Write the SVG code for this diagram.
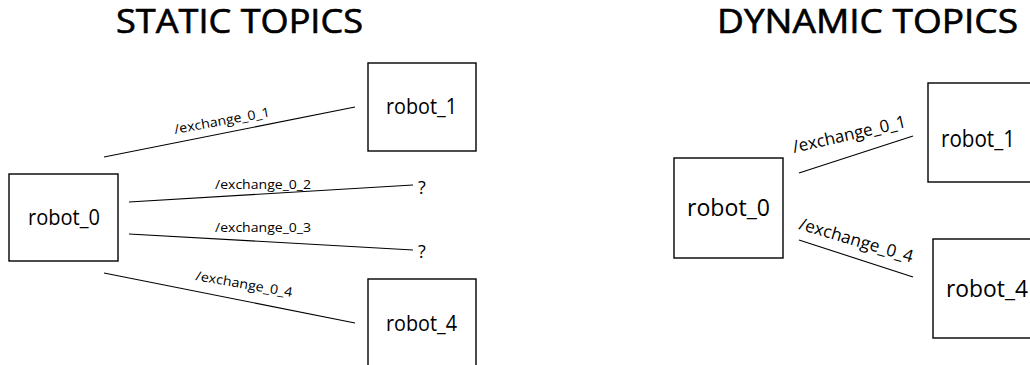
<svg xmlns="http://www.w3.org/2000/svg" width="1030" height="365" viewBox="0 0 1030 365">
  <style>
    text { font-family: "Open Sans", Lato, "Liberation Sans", sans-serif; fill: #000; }
    .title { font-size: 32px; stroke: #000; stroke-width: 0.6; }
    .node rect { fill: #fff; stroke: #000; stroke-width: 1.4; }
    .s-label { font-size: 21px; }
    .d-label { font-size: 23px; }
    .edge line { stroke: #000; stroke-width: 1.1; }
    .topic { font-size: 13px; }
    .topic-big { font-size: 17px; }
    .mark { font-size: 18px; }
  </style>
  <rect width="1030" height="365" fill="#fff"/>

  <!-- headings -->
  <text class="title" x="116" y="33" textLength="247" lengthAdjust="spacingAndGlyphs">STATIC TOPICS</text>
  <text class="title" x="717" y="33" textLength="301" lengthAdjust="spacingAndGlyphs">DYNAMIC TOPICS</text>

  <!-- static topics: connectors -->
  <g id="static-connectors" class="edge">
    <line x1="104" y1="157" x2="355" y2="107"/>
    <line x1="129" y1="202" x2="413" y2="185"/>
    <line x1="129" y1="234" x2="413" y2="250"/>
    <line x1="104" y1="273" x2="355" y2="323"/>
    <text class="topic" transform="translate(175 134) rotate(-10.5)" textLength="97" lengthAdjust="spacingAndGlyphs">/exchange_0_1</text>
    <text class="topic" x="215" y="189" textLength="96" lengthAdjust="spacingAndGlyphs">/exchange_0_2</text>
    <text class="topic" x="215" y="232" textLength="96" lengthAdjust="spacingAndGlyphs">/exchange_0_3</text>
    <text class="topic" transform="translate(195 280) rotate(10)" textLength="98" lengthAdjust="spacingAndGlyphs">/exchange_0_4</text>
    <text class="mark" x="418" y="194">?</text>
    <text class="mark" x="418" y="258">?</text>
  </g>

  <!-- static topics: nodes -->
  <g id="s-robot_0" class="node">
    <rect x="9" y="174" width="109" height="87"/>
    <text class="s-label" x="28" y="225" textLength="72" lengthAdjust="spacingAndGlyphs">robot_0</text>
  </g>
  <g id="s-robot_1" class="node">
    <rect x="368" y="63" width="108" height="88"/>
    <text class="s-label" x="386" y="114" textLength="71" lengthAdjust="spacingAndGlyphs">robot_1</text>
  </g>
  <g id="s-robot_4" class="node">
    <rect x="368" y="279" width="108" height="110"/>
    <text class="s-label" x="386" y="331" textLength="71" lengthAdjust="spacingAndGlyphs">robot_4</text>
  </g>

  <!-- dynamic topics: connectors -->
  <g id="dynamic-connectors" class="edge">
    <line x1="799" y1="173" x2="913" y2="136"/>
    <line x1="799" y1="240" x2="913" y2="277"/>
    <text class="topic-big" transform="translate(794 153) rotate(-13)" textLength="116" lengthAdjust="spacingAndGlyphs">/exchange_0_1</text>
    <text class="topic-big" transform="translate(798 229) rotate(16.5)" textLength="118" lengthAdjust="spacingAndGlyphs">/exchange_0_4</text>
  </g>

  <!-- dynamic topics: nodes -->
  <g id="d-robot_0" class="node">
    <rect x="674" y="158" width="109" height="100"/>
    <text class="d-label" x="687" y="216" textLength="83" lengthAdjust="spacingAndGlyphs">robot_0</text>
  </g>
  <g id="d-robot_1" class="node">
    <rect x="928" y="83" width="120" height="99"/>
    <text class="d-label" x="941" y="147" textLength="74" lengthAdjust="spacingAndGlyphs">robot_1</text>
  </g>
  <g id="d-robot_4" class="node">
    <rect x="933" y="239" width="120" height="99"/>
    <text class="d-label" x="946" y="297" textLength="82" lengthAdjust="spacingAndGlyphs">robot_4</text>
  </g>
</svg>
